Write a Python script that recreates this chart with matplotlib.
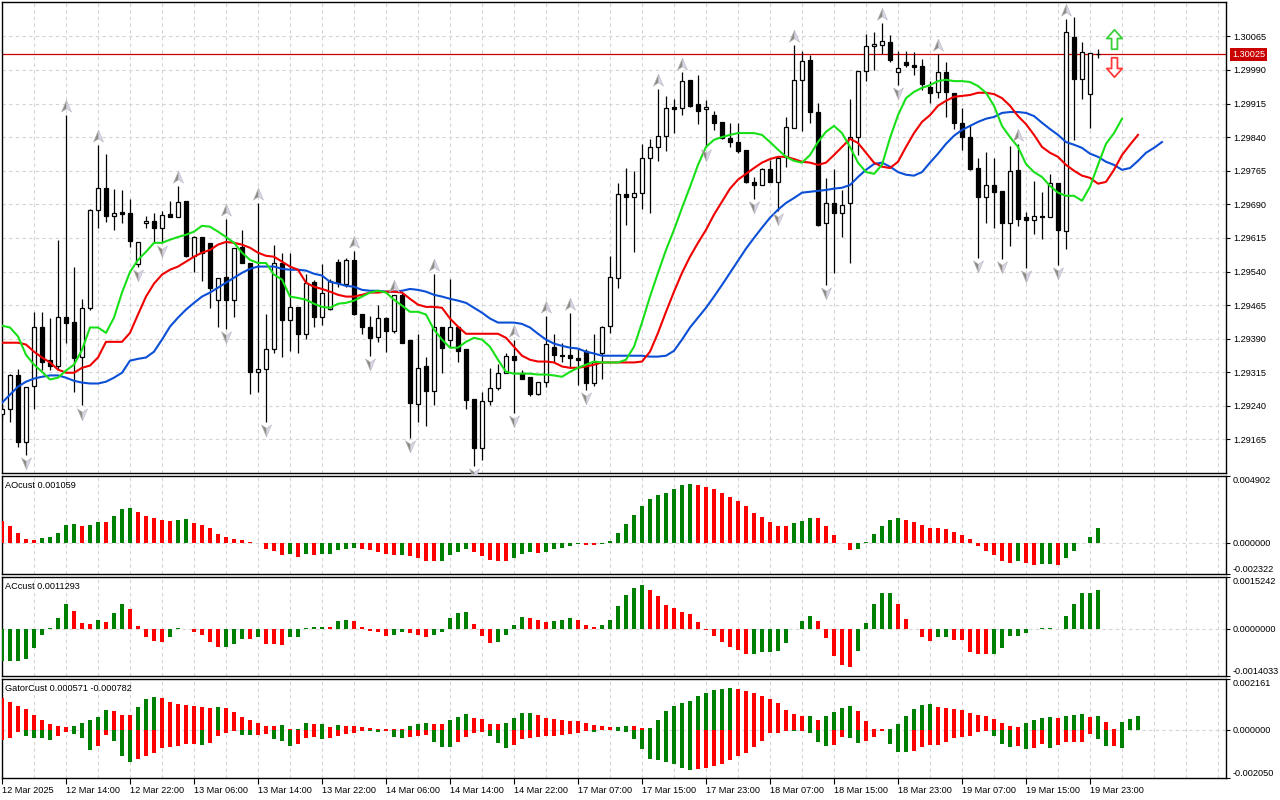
import numpy as np
import matplotlib
matplotlib.use("Agg")
import matplotlib.pyplot as plt
import matplotlib.transforms as mtrans
from matplotlib.path import Path

plt.rcParams["font.family"] = ["Liberation Sans", "DejaVu Sans"]
plt.rcParams["font.size"] = 6.6

# ---------------- data (H1 bars, prices in points = 1e-5) ----------------
opens_pt = [
    129221, 129234, 129308, 129160, 129285, 129417, 129343, 129330, 129439, 129428,
    129350, 129459, 129678, 129727, 129664, 129673, 129671, 129557, 129649, 129653,
    129638, 129669, 129662, 129698, 129575, 129617, 129604, 129477, 129528, 129477,
    129595, 129560, 129316, 129323, 129368, 129560, 129432, 129461, 129401, 129517,
    129439, 129457, 129562, 129513, 129566, 129446, 129415, 129394, 129437, 129408,
    129488, 129386, 129245, 129330, 129274, 129415, 129388, 129415, 129368, 129256,
    129147, 129250, 129279, 129314, 129352, 129314, 129305, 129267, 129294, 129372,
    129354, 129354, 129348, 129363, 129290, 129359, 129419, 129526, 129713, 129707,
    129716, 129794, 129818, 129843, 129907, 129905, 129968, 129914, 129903, 129890,
    129874, 129838, 129829, 129812, 129740, 129733, 129769, 129740, 129796, 129861,
    129968, 130012, 129896, 129649, 129693, 129671, 129693, 129840, 129988, 130043,
    130046, 130052, 129985, 130008, 130001, 129999, 129952, 129941, 129985, 129939,
    129872, 129840, 129771, 129707, 129733, 129720, 129649, 129767, 129662, 129655,
    129664, 129662, 129738, 129631, 130063, 129970, 129936, 130026]
highs_pt = [
    129243, 129312, 129323, 129283, 129450, 129450, 129437, 129611, 129890, 129551,
    129479, 129680, 129823, 129803, 129725, 129722, 129702, 129606, 129664, 129671,
    129675, 129698, 129731, 129698, 129620, 129617, 129604, 129526, 129658, 129593,
    129633, 129560, 129693, 129446, 129600, 129582, 129582, 129461, 129535, 129522,
    129557, 129524, 129568, 129571, 129586, 129446, 129441, 129466, 129439, 129488,
    129493, 129386, 129401, 129350, 129535, 129415, 129524, 129415, 129368, 129256,
    129272, 129325, 129334, 129359, 129388, 129321, 129305, 129294, 129441, 129401,
    129381, 129448, 129366, 129366, 129401, 129419, 129575, 129738, 129771, 129765,
    129825, 129836, 129948, 129932, 129925, 129985, 129968, 129979, 129923, 129898,
    129874, 129872, 129872, 129812, 129751, 129771, 129789, 129796, 129885, 130046,
    130032, 130023, 129916, 129749, 129769, 129722, 129925, 129988, 130070, 130075,
    130095, 130068, 130032, 130032, 130030, 130014, 129965, 130026, 130008, 129939,
    129905, 129867, 129794, 129807, 129794, 129720, 129820, 129825, 129673, 129742,
    129718, 129758, 129738, 130104, 130108, 130052, 130028, 130037]
lows_pt = [
    129209, 129203, 129149, 129131, 129232, 129321, 129321, 129321, 129381, 129272,
    129241, 129455, 129638, 129651, 129633, 129649, 129595, 129551, 129638, 129604,
    129604, 129662, 129662, 129573, 129539, 129519, 129459, 129415, 129412, 129439,
    129560, 129267, 129272, 129205, 129359, 129350, 129363, 129359, 129390, 129415,
    129421, 129455, 129506, 129506, 129444, 129401, 129352, 129383, 129361, 129403,
    129381, 129169, 129205, 129196, 129241, 129314, 129370, 129337, 129234, 129105,
    129120, 129241, 129276, 129314, 129225, 129299, 129261, 129265, 129283, 129339,
    129339, 129325, 129287, 129276, 129285, 129299, 129403, 129504, 129644, 129584,
    129680, 129671, 129787, 129809, 129849, 129890, 129907, 129869, 129818, 129856,
    129836, 129818, 129805, 129738, 129702, 129733, 129740, 129675, 129774, 129861,
    129854, 129872, 129642, 129510, 129537, 129617, 129560, 129800, 129965, 129990,
    130026, 130008, 129956, 129997, 129979, 129945, 129916, 129927, 129885, 129858,
    129812, 129767, 129571, 129649, 129638, 129568, 129597, 129642, 129548, 129624,
    129613, 129662, 129555, 129591, 129834, 129925, 129861, 130017]
closes_pt = [
    129232, 129310, 129160, 129283, 129417, 129339, 129328, 129439, 129426, 129348,
    129459, 129678, 129727, 129664, 129671, 129669, 129609, 129606, 129653, 129638,
    129667, 129662, 129696, 129575, 129617, 129582, 129504, 129526, 129477, 129593,
    129560, 129316, 129323, 129368, 129560, 129432, 129461, 129401, 129515, 129439,
    129493, 129519, 129515, 129566, 129446, 129415, 129392, 129437, 129408, 129488,
    129381, 129247, 129325, 129274, 129415, 129370, 129417, 129363, 129254, 129147,
    129250, 129281, 129314, 129352, 129343, 129301, 129267, 129294, 129379, 129354,
    129352, 129348, 129343, 129290, 129337, 129417, 129528, 129713, 129707, 129716,
    129794, 129818, 129843, 129905, 129903, 129965, 129910, 129898, 129907, 129872,
    129838, 129829, 129809, 129740, 129733, 129769, 129740, 129794, 129863, 129968,
    130010, 129896, 129644, 129693, 129671, 129689, 129840, 129988, 130043, 130048,
    130055, 130012, 129994, 130001, 129997, 129959, 129939, 129985, 129941, 129872,
    129840, 129769, 129707, 129733, 129718, 129649, 129765, 129658, 129655, 129664,
    129662, 129738, 129633, 130075, 129970, 130030, 130028, 130025]

# Alligator lines as displayed (already shifted forward: jaw 8, teeth 5, lips 3)
jaw_pt = [
    129247, 129265, 129283, 129294, 129301, 129305, 129308, 129308, 129303, 129296,
    129292, 129290, 129290, 129294, 129303, 129314, 129341, 129345, 129348, 129361,
    129388, 129417, 129437, 129455, 129470, 129484, 129493, 129504, 129515, 129526,
    129537, 129546, 129551, 129551, 129551, 129546, 129544, 129544, 129542, 129535,
    129531, 129517, 129513, 129508, 129506, 129499, 129497, 129497, 129495, 129495,
    129497, 129501, 129499, 129495, 129488, 129484, 129479, 129475, 129470, 129459,
    129448, 129435, 129426, 129426, 129426, 129423, 129415, 129401, 129388, 129379,
    129374, 129370, 129368, 129361, 129357, 129352, 129352, 129352, 129352, 129352,
    129352, 129350, 129350, 129352, 129363, 129388, 129415, 129437, 129459, 129484,
    129510, 129537, 129564, 129591, 129615, 129638, 129660, 129678, 129693, 129704,
    129716, 129718, 129720, 129722, 129725, 129727, 129733, 129751, 129767, 129780,
    129783, 129774, 129762, 129756, 129754, 129762, 129783, 129803, 129825, 129843,
    129856, 129865, 129874, 129881, 129885, 129894, 129896, 129896, 129894, 129887,
    129872, 129858, 129845, 129829, 129823, 129816, 129803, 129796, 129785, 129778,
    129767, 129771, 129787, 129805, 129816, 129829]
teeth_pt = [
    129381, 129381, 129381, 129377, 129361, 129348, 129337, 129321, 129314, 129314,
    129325, 129330, 129348, 129383, 129383, 129383, 129403, 129444, 129484, 129513,
    129533, 129544, 129551, 129562, 129573, 129582, 129588, 129600, 129606, 129604,
    129600, 129593, 129582, 129575, 129573, 129562, 129551, 129544, 129515, 129506,
    129501, 129495, 129488, 129484, 129484, 129488, 129493, 129493, 129495, 129495,
    129493, 129479, 129466, 129461, 129461, 129459, 129435, 129417, 129401, 129401,
    129401, 129401, 129401, 129392, 129372, 129352, 129343, 129339, 129339, 129337,
    129328, 129325, 129325, 129328, 129332, 129337, 129337, 129337, 129337, 129337,
    129339, 129361, 129403, 129450, 129495, 129537, 129573, 129604, 129633, 129667,
    129696, 129725, 129745, 129758, 129771, 129783, 129791, 129796, 129796, 129791,
    129785, 129783, 129778, 129783, 129800, 129818, 129836, 129827, 129805, 129783,
    129774, 129771, 129785, 129818, 129849, 129874, 129889, 129910, 129921, 129930,
    129932, 129934, 129939, 129939, 129936, 129927, 129910, 129887, 129869, 129845,
    129818, 129805, 129796, 129778, 129765, 129754, 129749, 129736, 129740, 129767,
    129800, 129823, 129845]
lips_pt = [
    129419, 129415, 129395, 129354, 129332, 129316, 129299, 129303, 129319, 129332,
    129365, 129415, 129415, 129403, 129437, 129493, 129539, 129566, 129584, 129604,
    129604, 129611, 129617, 129622, 129629, 129642, 129640, 129629, 129617, 129604,
    129582, 129566, 129559, 129559, 129533, 129522, 129484, 129481, 129477, 129468,
    129461, 129459, 129468, 129470, 129475, 129484, 129493, 129497, 129493, 129477,
    129464, 129450, 129450, 129444, 129410, 129388, 129370, 129370, 129383, 129392,
    129388, 129372, 129343, 129316, 129312, 129312, 129312, 129310, 129310, 129308,
    129305, 129316, 129325, 129332, 129339, 129337, 129337, 129337, 129343, 129372,
    129426, 129484, 129537, 129588, 129633, 129682, 129729, 129778, 129818, 129834,
    129840, 129845, 129849, 129849, 129849, 129845, 129829, 129812, 129796, 129787,
    129783, 129800, 129829, 129852, 129865, 129849, 129818, 129783, 129762, 129758,
    129778, 129838, 129889, 129927, 129941, 129950, 129956, 129965, 129968, 129965,
    129965, 129963, 129954, 129939, 129910, 129865, 129840, 129818, 129780, 129762,
    129751, 129731, 129716, 129709, 129709, 129698, 129729, 129778, 129825, 129849,
    129881]

# Bill Williams fractals (bar indices)
fractal_up = [8, 12, 22, 28, 32, 44, 49, 54, 64, 68, 71, 82, 85, 99, 110, 117, 127, 133]
fractal_dn = [3, 10, 17, 20, 28, 33, 46, 51, 59, 64, 73, 88, 94, 97, 103, 112, 122, 125,
              128, 132]

# signal arrows on the right (bar index, price)
signal_bar = 139
signal_up_price = 1.30060
signal_dn_price = 1.29996
last_price = 1.30025

# oscillators, values in 1e-6
ao_e6 = [
    1592, 1200, 735, 294, 220, 368, 441, 735, 1323, 1348,
    1200, 1323, 1519, 1494, 1984, 2499, 2572, 2278, 1984, 1813,
    1690, 1617, 1690, 1715, 1470, 1323, 1102, 662, 441, 294,
    220, 49, -49, -514, -637, -955, -882, -1078, -882, -906,
    -882, -833, -588, -490, -416, -490, -588, -735, -882, -931,
    -906, -1029, -1176, -1372, -1396, -1348, -931, -735, -490, -686,
    -1004, -1298, -1348, -1372, -1176, -882, -735, -808, -735, -490,
    -416, -270, -122, -196, -220, -122, 122, 735, 1396, 2058,
    2720, 3185, 3528, 3650, 3944, 4214, 4312, 4263, 4092, 3944,
    3675, 3381, 3062, 2720, 2205, 1862, 1544, 1250, 1200, 1470,
    1617, 1838, 1788, 1250, 588, -24, -564, -490, 49, 662,
    1200, 1690, 1838, 1642, 1519, 1323, 1102, 1078, 980, 760,
    539, 294, -270, -637, -931, -1396, -1494, -1396, -1544, -1666,
    -1592, -1568, -1666, -1176, -637, -24, 441, 1059]
ac_e6 = [
    -969, -959, -949, -900, -564, -188, 30, 307, 722, 524,
    158, 148, 247, 188, 455, 722, 574, 69, -247, -366,
    -405, -247, 20, -20, -89, -188, -386, -544, -534, -455,
    -307, -316, -247, -445, -465, -475, -247, -237, 30, 49,
    59, 49, 227, 247, 218, 40, -59, -109, -218, -188,
    -109, -129, -178, -247, -188, -109, 307, 455, 495, 129,
    -227, -425, -386, -178, 99, 336, 326, 247, 188, 237,
    247, 307, 247, 99, 40, 99, 247, 663, 999, 1197,
    1276, 1137, 949, 692, 603, 495, 425, 188, -30, -227,
    -386, -534, -633, -762, -752, -702, -692, -653, -425, -10,
    227, 376, 218, -277, -811, -1078, -1137, -663, 158, 722,
    1048, 1058, 722, 287, -20, -247, -366, -247, -237, -336,
    -346, -702, -752, -762, -752, -574, -218, -208, -129, -10,
    10, 20, -20, 366, 722, 1048, 1058, 1129]
gator_up_e6 = [
    1340, 1170, 1029, 874, 649, 437, 240, 155, 113, 155,
    282, 409, 536, 832, 790, 635, 620, 959, 1297, 1382,
    1340, 1199, 1086, 1043, 1001, 959, 945, 959, 917, 747,
    564, 409, 282, 183, 155, 197, 28, 42, 282, 240,
    254, 127, 197, 183, 169, 113, 85, 42, 28, 21,
    14, 155, 240, 282, 240, 226, 409, 536, 663, 494,
    451, 240, 226, 282, 494, 705, 719, 620, 494, 451,
    409, 395, 381, 282, 197, 155, 113, 127, 169, 141,
    56, 71, 409, 790, 1001, 1128, 1213, 1424, 1565, 1678,
    1720, 1763, 1748, 1636, 1551, 1424, 1297, 1142, 832, 663,
    578, 592, 437, 578, 747, 917, 1001, 790, 367, 42,
    14, 42, 240, 606, 902, 1072, 1086, 987, 945, 902,
    860, 733, 649, 606, 479, 310, 141, 127, 310, 437,
    522, 564, 522, 606, 620, 691, 564, 606, 353, 14,
    353, 479, 571]
gator_dn_e6 = [
    451, 338, 85, 268, 338, 353, 423, 268, 85, 169,
    338, 846, 677, 212, 465, 1114, 1354, 1227, 1114, 987,
    761, 719, 677, 620, 606, 635, 550, 268, 127, 56,
    212, 226, 212, 169, 381, 465, 677, 592, 338, 324,
    381, 367, 268, 169, 127, 42, 56, 85, 42, 296,
    338, 296, 254, 212, 508, 719, 733, 508, 296, 127,
    113, 268, 550, 761, 635, 409, 338, 296, 282, 254,
    212, 197, 127, 42, 85, 14, 28, 56, 85, 381,
    804, 1227, 1269, 1354, 1452, 1607, 1692, 1650, 1636, 1537,
    1438, 1269, 1114, 973, 719, 465, 155, 127, 42, 71,
    42, 127, 508, 677, 663, 296, 338, 550, 465, 296,
    42, 592, 931, 959, 917, 747, 663, 649, 536, 367,
    324, 282, 113, 71, 282, 620, 747, 705, 832, 790,
    620, 790, 663, 536, 522, 508, 197, 409, 705, 691,
    782]

time_labels = ["12 Mar 2025", "12 Mar 14:00", "12 Mar 22:00", "13 Mar 06:00",
               "13 Mar 14:00", "13 Mar 22:00", "14 Mar 06:00", "14 Mar 14:00",
               "14 Mar 22:00", "17 Mar 07:00", "17 Mar 15:00", "17 Mar 23:00",
               "18 Mar 07:00", "18 Mar 15:00", "18 Mar 23:00", "19 Mar 07:00",
               "19 Mar 15:00", "19 Mar 23:00"]
price_ticks = [1.29165, 1.29240, 1.29315, 1.29390, 1.29465, 1.29540, 1.29615,
               1.29690, 1.29765, 1.29840, 1.29915, 1.29990, 1.30065]

opens = np.array(opens_pt) / 1e5
highs = np.array(highs_pt) / 1e5
lows = np.array(lows_pt) / 1e5
closes = np.array(closes_pt) / 1e5
jaw = np.array(jaw_pt) / 1e5
teeth = np.array(teeth_pt) / 1e5
lips = np.array(lips_pt) / 1e5
ao = np.array(ao_e6) * 1e-6
ac = np.array(ac_e6) * 1e-6
gator_up = np.array(gator_up_e6) * 1e-6
gator_dn = np.array(gator_dn_e6) * 1e-6

GREEN = "#008000"
RED = "#ff0000"
GRID = "#d4d4d4"
N_VIEW = 153  # bars visible across the chart


def trend_colors(vals, first):
    cols = [first]
    for i in range(1, len(vals)):
        if vals[i] > vals[i - 1]:
            cols.append(GREEN)
        elif vals[i] < vals[i - 1]:
            cols.append(RED)
        else:
            cols.append(cols[-1])
    return cols


# ---------------- layout ----------------
W, H = 1280, 800
fig = plt.figure(figsize=(12.8, 8), dpi=100)
fig.patch.set_facecolor("white")


def px_axes(x0, y0, x1, y1):
    return fig.add_axes([x0 / W, 1 - y1 / H, (x1 - x0) / W, (y1 - y0) / H])


ax = px_axes(2, 2, 1226, 473)
ax_ao = px_axes(2, 476, 1226, 574)
ax_ac = px_axes(2, 577, 1226, 676)
ax_g = px_axes(2, 679, 1226, 778)

for a in (ax, ax_ao, ax_ac, ax_g):
    a.set_xlim(0, N_VIEW)
    a.set_facecolor("white")
    for sp in a.spines.values():
        sp.set_color("black")
        sp.set_linewidth(1.0)
    for gx in range(0, N_VIEW + 1, 4):
        a.axvline(gx, color=GRID, lw=0.8, ls=(0, (3, 3)), zorder=0)
    a.yaxis.tick_right()
    a.tick_params(axis="y", which="both", direction="out", length=3, width=0.8,
                  pad=2, labelsize=6.6, left=False, right=True, colors="black")
    a.tick_params(axis="x", bottom=False, labelbottom=False)

# ---------------- main price chart ----------------
ax.set_ylim(1.290902, 1.301416)
ax.set_yticks(price_ticks)
ax.set_yticklabels([f"{p:.5f}" for p in price_ticks])
for p in price_ticks:
    ax.axhline(p, color=GRID, lw=0.8, ls=(0, (3, 3)), zorder=0)

ax.axhline(last_price, color="#c80000", lw=0.9, zorder=2)

x = np.arange(len(opens))
bull = closes >= opens
ax.vlines(x, lows, highs, color="black", lw=0.9, zorder=3)
body_lo = np.minimum(opens, closes)
body_h = np.maximum(np.abs(closes - opens), 0.000004)
ax.bar(x, body_h, bottom=body_lo, width=0.5,
       color=np.where(bull, "white", "black"), edgecolor="black", lw=0.9, zorder=4)

ax.plot(np.arange(len(jaw)), jaw, color="#0a4fd6", lw=1.5, zorder=5)
ax.plot(np.arange(len(teeth)), teeth, color="#f00000", lw=1.5, zorder=6)
ax.plot(np.arange(len(lips)), lips, color="#18e018", lw=1.5, zorder=7)

# fractal arrowheads, two-tone (dark left half, light right half)
half_l = Path([(0, 1), (0, -0.35), (-0.8, -0.9), (0, 1)],
              [Path.MOVETO, Path.LINETO, Path.LINETO, Path.CLOSEPOLY])
half_r = Path([(0, 1), (0.8, -0.9), (0, -0.35), (0, 1)],
              [Path.MOVETO, Path.LINETO, Path.LINETO, Path.CLOSEPOLY])
flip = [1, -1]
for xs, ys, sgn in ((fractal_up, highs[fractal_up] + 0.00019, 1),
                    (fractal_dn, lows[fractal_dn] - 0.00018, -1)):
    pl = half_l if sgn > 0 else Path(half_l.vertices * flip, half_l.codes)
    pr = half_r if sgn > 0 else Path(half_r.vertices * flip, half_r.codes)
    ax.plot(xs, ys, ls="none", marker=pl, ms=9, mfc="#8e8a86", mec="#b8b4b0",
            mew=0.4, zorder=8)
    ax.plot(xs, ys, ls="none", marker=pr, ms=9, mfc="#d9d6e4", mec="#b8b4c4",
            mew=0.4, zorder=8)

# buy / sell block arrows
blk = Path([(-0.3, -1), (0.3, -1), (0.3, 0.1), (0.8, 0.1), (0, 1), (-0.8, 0.1),
            (-0.3, 0.1), (-0.3, -1)],
           [Path.MOVETO] + [Path.LINETO] * 6 + [Path.CLOSEPOLY])
blk_dn = Path(blk.vertices * [1, -1], blk.codes)
ax.plot([signal_bar], [signal_up_price], marker=blk, ms=14, mfc="white",
        mec="#3ccf3c", mew=1.3, ls="none", zorder=9)
ax.plot([signal_bar], [signal_dn_price], marker=blk_dn, ms=14, mfc="white",
        mec="#ff3a3a", mew=1.3, ls="none", zorder=9)

tr = mtrans.blended_transform_factory(ax.transAxes, ax.transData)
ax.text(1.0 + 6 / 1224, last_price, f"{last_price:.5f}", transform=tr, color="white",
        fontsize=6.6, va="center", ha="left", zorder=10, clip_on=False,
        bbox=dict(boxstyle="square,pad=0.2", fc="#c80000", ec="none"))


# ---------------- sub windows ----------------
def sub_ticks(a, lo, hi, fmt):
    a.set_ylim(lo, hi)
    a.set_yticks([lo, 0.0, hi])
    a.set_yticklabels([fmt.format(lo), fmt.format(0.0), fmt.format(hi)])
    lbls = a.get_yticklabels()
    lbls[0].set_va("bottom")
    lbls[2].set_va("top")
    a.axhline(0, color=GRID, lw=0.8, ls=(0, (3, 3)), zorder=0)


sub_ticks(ax_ao, -0.002322, 0.004902, "{:.6f}")
ax_ao.bar(np.arange(len(ao)), ao, width=0.5, color=trend_colors(ao, RED), zorder=3)
ax_ao.text(0.0025, 0.95, "AOcust 0.001059", transform=ax_ao.transAxes,
           va="top", ha="left", fontsize=6.6)

sub_ticks(ax_ac, -0.0014033, 0.0015242, "{:.7f}")
ax_ac.bar(np.arange(len(ac)), ac, width=0.5, color=trend_colors(ac, GREEN), zorder=3)
ax_ac.text(0.0025, 0.95, "ACcust 0.0011293", transform=ax_ac.transAxes,
           va="top", ha="left", fontsize=6.6)

sub_ticks(ax_g, -0.002050, 0.002161, "{:.6f}")
ax_g.bar(np.arange(len(gator_up)), gator_up, width=0.5,
         color=trend_colors(gator_up, RED), zorder=3)
ax_g.bar(np.arange(len(gator_dn)), -gator_dn, width=0.5,
         color=trend_colors(gator_dn, RED), zorder=3)
ax_g.text(0.0025, 0.95, "GatorCust 0.000571 -0.000782", transform=ax_g.transAxes,
          va="top", ha="left", fontsize=6.6)

ax_g.set_xticks(np.arange(len(time_labels)) * 8)
ax_g.set_xticklabels(time_labels)
ax_g.tick_params(axis="x", bottom=True, labelbottom=True, direction="out",
                 length=4, width=0.8, pad=2, labelsize=6.6)
for lbl in ax_g.get_xticklabels():
    lbl.set_ha("left")

fig.savefig("out.png", dpi=100, facecolor="white")
